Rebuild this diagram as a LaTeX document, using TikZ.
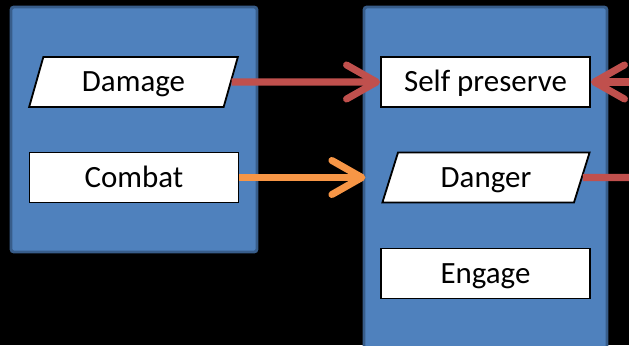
\documentclass[tikz,border=0pt]{standalone}
\usepackage{fontspec}
\setmainfont{Carlito}
\usepackage{tikz}
\usetikzlibrary{positioning,shapes.geometric,arrows.meta,calc}
\definecolor{panelcol}{RGB}{79,129,189}
\definecolor{paneledge}{RGB}{56,93,138}
\definecolor{redcol}{RGB}{192,80,77}
\definecolor{orangecol}{RGB}{247,150,70}

\begin{document}
\begin{tikzpicture}[
  every node/.style={font=\fontsize{22}{26}\selectfont},
  panel/.style={draw=paneledge, fill=panelcol, line width=2pt, rounded corners=2pt},
  box/.style={draw=black, fill=white, line width=1.3pt, minimum width=5.225cm, minimum height=1.25cm,
    text height=18pt, text depth=4pt},
  slant/.style={box, trapezium, trapezium left angle=77.6, trapezium right angle=102.4, trapezium stretches=true},
  link/.style={line width=5pt, -{Straight Barb[length=0.75cm, width=0.85cm, round]}},
]
\fill[black] (0,0) rectangle (15.725,8.625);
\useasboundingbox (0,0) rectangle (15.725,8.625);
% the two blocks
\node[panel, minimum width=6.15cm, minimum height=6.125cm] (inputs) at (3.35,5.3875) {};
\node[panel, minimum width=6.075cm, minimum height=9.5cm] (states) at (12.1375,3.7) {};
% left block
\node[slant] (damage) at (3.3375,6.575) {Damage};
\node[box]   (combat) at (3.35,4.1875)  {Combat};
% right block
\node[box]   (self)   at (12.1375,6.575)  {Self preserve};
\node[slant, minimum width=5.2cm] (danger) at (12.15,4.1875) {Danger};
\node[box]   (engage) at (12.1375,1.7875) {Engage};
% connectors
\coordinate (outR) at (16.2,4.1875);
\coordinate (inR)  at (16.2,6.575);
\draw[link, redcol] (damage.east) -- (self.west);
\draw[link, orangecol] (combat.east) -- ([xshift=2pt]states.west |- combat.east);
\draw[line width=5pt, redcol] (danger.east) -- (outR);
\draw[link, redcol] (inR) -- (self.east);
\end{tikzpicture}
\end{document}
